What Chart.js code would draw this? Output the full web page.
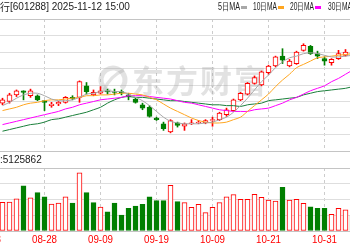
<!DOCTYPE html>
<html>
<head>
<meta charset="utf-8">
<script src="https://cdn.jsdelivr.net/npm/chart.js@4.4.0/dist/chart.umd.min.js"></script>
<style>
  html, body { margin: 0; padding: 0; background: #fff; }
  #wrap { position: relative; width: 350px; height: 250px; overflow: hidden; }
  #priceChart { position: absolute; left: 0; top: 0; }
  #volChart { position: absolute; left: 0; top: 152px; }
</style>
</head>
<body>
<div id="wrap">
  <canvas id="priceChart" width="350" height="152"></canvas>
  <canvas id="volChart" width="350" height="98"></canvas>
</div>
<script>
// header / legend texts
const stockName = '农业银行';
const stockCode = '601288';
const stamp = '2025-11-12 15:00';
const volText = ':5125862';
const maNames = ['5日MA', '10日MA', '20日MA', '30日MA'];
const brand = ['东', '方', '财', '富'];

// trading days shown in the window
const dates = ['08-20','08-21','08-22','08-25','08-26','08-27','08-28','08-29',
  '09-01','09-02','09-03','09-04','09-05','09-08','09-09','09-10','09-11','09-12',
  '09-15','09-16','09-17','09-18','09-19','09-22','09-23','09-24','09-25','09-26',
  '09-29','09-30','10-09','10-10','10-13','10-14','10-15','10-16','10-17','10-20',
  '10-21','10-22','10-23','10-24','10-27','10-28','10-29','10-30','10-31',
  '11-03','11-04','11-05','11-06'];

// date tick labels and the day index they sit on (08-18 is just off the left edge)
const tickLabels = ['08-18','08-28','09-09','09-19','10-09','10-21','10-31'];
const tickIdx = [-2, 6, 14, 22, 30, 38, 46];

// daily prices
const opens  = [6.98,7.00,7.08,7.13,7.07,7.07,7.01,6.95,6.97,6.99,7.05,7.05,7.19,7.08,7.10,7.13,7.12,
  7.12,7.08,7.03,6.96,6.93,6.80,6.73,6.63,6.74,6.70,6.73,6.74,6.74,6.77,6.78,6.84,6.89,7.02,7.09,
  7.22,7.20,7.35,7.43,7.55,7.43,7.46,7.62,7.67,7.58,7.52,7.47,7.52,7.56,7.59];
const closes = [7.02,7.08,7.13,7.11,7.13,7.02,6.99,6.97,6.99,7.05,7.03,7.24,7.12,7.11,7.13,7.12,7.11,
  7.10,7.06,6.99,6.92,6.82,6.78,6.67,6.77,6.71,6.73,6.74,6.75,6.77,6.78,6.86,6.90,7.02,7.10,7.22,
  7.29,7.36,7.43,7.54,7.50,7.49,7.60,7.68,7.58,7.55,7.49,7.51,7.58,7.60,7.56];
const highs  = [7.04,7.10,7.14,7.13,7.15,7.08,7.01,6.99,7.00,7.06,7.07,7.25,7.23,7.14,7.18,7.15,7.15,
  7.14,7.10,7.04,6.98,6.95,6.81,6.75,6.78,6.75,6.74,6.78,6.77,6.78,6.81,6.87,6.92,7.03,7.11,7.23,
  7.31,7.37,7.44,7.55,7.64,7.51,7.61,7.70,7.68,7.61,7.54,7.52,7.62,7.63,7.61];
const lows   = [6.96,6.98,7.06,7.02,7.05,7.01,6.89,6.93,6.95,6.98,7.02,6.99,7.09,7.07,7.09,7.09,7.08,
  7.08,7.02,6.98,6.90,6.81,6.77,6.65,6.62,6.69,6.65,6.72,6.73,6.73,6.70,6.77,6.82,6.88,7.01,7.08,
  7.21,7.19,7.33,7.42,7.46,7.42,7.45,7.61,7.57,7.52,7.44,7.44,7.51,7.55,7.54];

// moving averages as drawn on the picture
const ma5  = [6.95,6.99,7.04,7.08,7.10,7.10,7.07,7.03,7.01,7.01,7.02,7.05,7.09,7.10,7.12,7.13,7.12,
  7.12,7.09,7.05,7.01,6.95,6.88,6.81,6.76,6.74,6.73,6.73,6.73,6.74,6.75,6.78,6.81,6.87,6.95,7.04,
  7.14,7.24,7.32,7.41,7.48,7.53,7.55,7.58,7.59,7.58,7.56,7.54,7.54,7.55,7.56];
const ma10 = [6.89,6.91,6.93,6.96,6.98,6.99,7.01,7.02,7.02,7.03,7.04,7.05,7.07,7.07,7.08,7.08,7.09,
  7.10,7.10,7.09,7.08,7.05,7.02,6.97,6.92,6.88,6.84,6.80,6.77,6.75,6.74,6.74,6.75,6.78,6.81,6.88,
  6.95,7.02,7.09,7.18,7.26,7.33,7.41,7.45,7.49,7.53,7.54,7.55,7.56,7.57,7.58];
const ma20 = [6.72,6.74,6.76,6.78,6.80,6.82,6.84,6.86,6.88,6.91,6.93,6.96,6.98,7.00,7.02,7.03,7.04,
  7.05,7.07,7.07,7.07,7.06,7.05,7.04,7.03,7.01,6.99,6.98,6.96,6.94,6.92,6.90,6.89,6.88,6.88,6.88,
  6.90,6.91,6.92,6.95,6.98,7.02,7.05,7.09,7.13,7.16,7.19,7.24,7.28,7.33,7.38];
const ma30 = [6.64,6.66,6.68,6.70,6.72,6.73,6.75,6.78,6.79,6.81,6.83,6.85,6.87,6.90,6.93,6.98,7.02,
  7.05,7.06,7.05,7.05,7.04,7.03,7.02,7.01,7.01,7.00,6.99,6.98,6.97,6.96,6.96,6.95,6.95,6.94,6.96,
  6.97,6.98,7.01,7.02,7.03,7.04,7.05,7.08,7.10,7.12,7.13,7.14,7.15,7.16,7.18];

// volume (10k lots) and whether the bar is drawn red
const vols = [730,735,815,1150,840,975,870,685,710,870,710,1475,975,720,610,490,710,405,575,635,
  680,870,770,770,1160,745,720,600,680,465,600,720,870,925,805,805,930,855,785,760,1110,785,
  805,705,615,575,575,425,575,535,390];
const volUp = [1,1,1,0,1,0,0,1,1,1,0,1,0,0,1,0,0,0,0,0,0,0,0,0,1,0,1,1,1,1,1,1,1,1,1,1,1,1,1,1,
  0,1,1,1,0,0,0,1,1,1,0];

const RED = '#ff0000';
const GREEN = '#007f00';
const maColors = ['#a8a8a8', '#ffa620', '#ff00ff', '#1a7f3a'];

// one day = 7px, day 0 centred at x = 2.5
const X_MIN = -2.5 / 7;
const X_MAX = 347.5 / 7;
const gridIdx = tickIdx.filter(v => v >= X_MIN && v <= X_MAX);

const up = closes.map((c, i) => c >= opens[i]);

function xAxis() {
  return {
    type: 'linear', min: X_MIN, max: X_MAX, offset: false,
    afterBuildTicks: s => { s.ticks = gridIdx.map(v => ({ value: v })); },
    ticks: { display: false },
    grid: { color: '#cccccc', drawTicks: false, offset: false },
    border: { display: false, dash: [3, 3] }
  };
}

const headerPlugin = {
  id: 'header',
  beforeDatasetsDraw(chart) {
    const c = chart.ctx;
    c.save();
    // faint logo watermark
    const wm = 'rgba(150,150,150,0.28)';
    c.fillStyle = wm;
    c.strokeStyle = wm;
    c.lineWidth = 5;
    c.beginPath();
    c.arc(113, 80, 12, Math.PI * 0.55, Math.PI * 2.25);
    c.stroke();
    c.lineWidth = 3;
    c.beginPath();
    c.moveTo(104, 90);
    c.quadraticCurveTo(110, 76, 124, 70);
    c.stroke();
    c.font = 'bold 32px "Noto Sans CJK SC"';
    c.textBaseline = 'middle';
    c.textAlign = 'left';
    brand.forEach((ch, i) => c.fillText(ch, 132 + i * 34, 81));
    c.restore();
  },
  afterDraw(chart) {
    const c = chart.ctx;
    c.save();
    c.textBaseline = 'middle';
    c.fillStyle = '#222';
    c.textAlign = 'right';
    c.font = '10px "Noto Sans CJK SC"';
    c.fillText(stockName, 10, 7.5);
    c.textAlign = 'left';
    c.font = '10px "Liberation Sans"';
    c.fillText('[' + stockCode + '] ' + stamp, 10, 7.5, 133);
    // MA legend
    const starts = [218, 253, 290, 328];
    const widths = [22, 24, 24, 24];
    maNames.forEach((n, i) => {
      c.fillStyle = '#222';
      c.font = '10px "Liberation Sans"';
      c.fillText(n, starts[i], 7.5, widths[i]);
      c.fillStyle = maColors[i];
      c.fillRect(starts[i] + widths[i] + 1, 6, 6, 3);
    });
    c.restore();
  }
};

new Chart(document.getElementById('priceChart'), {
  type: 'bar',
  data: {
    datasets: [
      ...[ma5, ma10, ma20, ma30].map((arr, k) => ({
        type: 'line',
        label: maNames[k],
        data: arr.map((v, i) => ({ x: i, y: v })),
        borderColor: maColors[k],
        borderWidth: 1,
        pointRadius: 0,
        tension: 0.3,
        order: 1
      })),
      {
        label: 'body',
        data: dates.map((d, i) => ({ x: i, y: [opens[i], closes[i]] })),
        barThickness: 5,
        grouped: false,
        backgroundColor: up.map(u => u ? '#ffffff' : GREEN),
        borderColor: up.map(u => u ? RED : GREEN),
        borderWidth: 1,
        borderSkipped: false,
        order: 2
      },
      {
        label: 'wick',
        data: dates.map((d, i) => ({ x: i, y: [lows[i], highs[i]] })),
        barThickness: 1,
        grouped: false,
        backgroundColor: up.map(u => u ? RED : GREEN),
        borderWidth: 0,
        order: 3
      }
    ]
  },
  options: {
    responsive: false,
    animation: false,
    events: [],
    layout: { padding: { top: 19, bottom: 1, left: 0, right: 0 } },
    plugins: { legend: { display: false }, tooltip: { enabled: false } },
    scales: {
      x: xAxis(),
      y: {
        min: 6.4, max: 8.0,
        ticks: { display: false, stepSize: 0.2 },
        grid: {
          drawTicks: false,
          color: ctx => (ctx.index === 0 || ctx.tick.value >= 7.99) ? '#c4c4c4' : '#dedede'
        },
        border: { display: false }
      }
    }
  },
  plugins: [headerPlugin]
});

const volPlugin = {
  id: 'volText',
  afterDraw(chart) {
    const c = chart.ctx;
    const xs = chart.scales.x;
    c.save();
    c.textBaseline = 'middle';
    c.font = '10px "Liberation Sans"';
    c.fillStyle = '#222';
    c.textAlign = 'left';
    c.fillText(volText, 0, 8);
    c.fillStyle = RED;
    c.textAlign = 'center';
    tickLabels.forEach((t, i) => {
      c.fillText(t, xs.getPixelForValue(tickIdx[i]), 88, 25);
    });
    c.restore();
  }
};

new Chart(document.getElementById('volChart'), {
  type: 'bar',
  data: {
    datasets: [{
      label: 'vol',
      data: vols.map((v, i) => ({ x: i, y: v })),
      barThickness: 5,
      backgroundColor: volUp.map(u => u ? '#ffffff' : GREEN),
      borderColor: volUp.map(u => u ? RED : GREEN),
      borderWidth: 1,
      borderSkipped: false
    }]
  },
  options: {
    responsive: false,
    animation: false,
    events: [],
    layout: { padding: { top: 16, bottom: 19, left: 0, right: 0 } },
    plugins: { legend: { display: false }, tooltip: { enabled: false } },
    scales: {
      x: xAxis(),
      y: {
        min: 0, max: 1600,
        ticks: { display: false, stepSize: 400 },
        grid: {
          drawTicks: false,
          color: ctx => (ctx.tick.value === 0 || ctx.tick.value === 1600) ? '#c4c4c4' : '#dedede'
        },
        border: { display: false }
      }
    }
  },
  plugins: [volPlugin]
});
</script>
</body>
</html>
